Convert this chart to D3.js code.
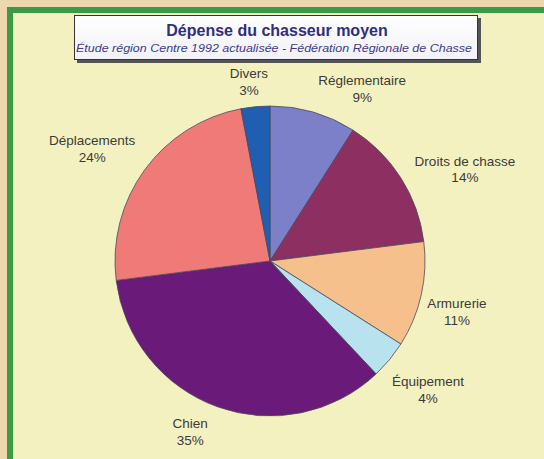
<!DOCTYPE html>
<html><head><meta charset="utf-8">
<script src="https://cdn.jsdelivr.net/npm/d3@7"></script>
<style>html,body{margin:0;padding:0;background:#eed7ae;}svg{display:block;}</style>
</head><body>
<script>
const categories = ["Réglementaire","Droits de chasse","Armurerie","Équipement","Chien","Déplacements","Divers"];
const values = [9,14,11,4,35,24,3];
const percentLabels = ["9%","14%","11%","4%","35%","24%","3%"];
const colors = ["#7b80c8","#8e2f62","#f6c08c","#b8e2ee","#6a1a78","#f07a77","#1f5eb0"];
const title = "Dépense du chasseur moyen";
const subtitle = "Étude région Centre 1992 actualisée - Fédération Régionale de Chasse";

// label nudges (layout, not data): offsets of label center from outer mid-angle point
const labelNudge = [[40,6.5],[37,8],[4.5,10],[14,9],[-16.5,-6],[-26.5,-3],[-3.5,6]];

const W=544,H=459;
const svg=d3.select("body").append("svg").attr("width",W).attr("height",H);
svg.append("rect").attr("width",W).attr("height",H).attr("fill","#eed7ae");
svg.append("rect").attr("x",10).attr("y",10).attr("width",700).attr("height",700)
  .attr("fill","#f4f1c0").attr("stroke","#3c9a47").attr("stroke-width",6);

// title box
const defs=svg.append("defs");
const g=defs.append("linearGradient").attr("id","tb").attr("x1",0).attr("y1",0).attr("x2",0).attr("y2",1);
g.append("stop").attr("offset","0%").attr("stop-color","#ffffff");
g.append("stop").attr("offset","100%").attr("stop-color","#f1f1f8");
svg.append("rect").attr("x",77).attr("y",18).attr("width",404).attr("height",45).attr("fill","#555");
svg.append("rect").attr("x",74.5).attr("y",15.5).attr("width",403).attr("height",44)
  .attr("fill","url(#tb)").attr("stroke","#333").attr("stroke-width",1);
svg.append("text").attr("x",277).attr("y",35.5).attr("text-anchor","middle")
  .attr("font-family","Liberation Sans, Arial, sans-serif").attr("font-weight","bold")
  .attr("font-size",16).attr("fill","#2f2e7e").text(title);
svg.append("text").attr("x",76).attr("y",52).attr("textLength",396).attr("lengthAdjust","spacingAndGlyphs")
  .attr("font-family","Liberation Sans, Arial, sans-serif").attr("font-style","italic")
  .attr("font-size",10.5).attr("fill","#3d3c86").text(subtitle);

// pie
const cx=270,cy=261,R=155;
const pie=d3.pie().sort(null).value(d=>d)(values);
const arc=d3.arc().innerRadius(0).outerRadius(R);
const pg=svg.append("g").attr("transform",`translate(${cx},${cy})`);
pg.selectAll("path").data(pie).join("path")
  .attr("d",arc).attr("fill",(d,i)=>colors[i])
  .attr("stroke","#4a4a5a").attr("stroke-width",0.8);

const labelArc=d3.arc().innerRadius(R+32).outerRadius(R+32);
const lg=pg.selectAll("g.lab").data(pie).join("g").attr("class","lab")
  .attr("transform",(d,i)=>{const c=labelArc.centroid(d);return `translate(${c[0]+labelNudge[i][0]},${c[1]+labelNudge[i][1]})`;});
lg.append("text").attr("text-anchor","middle").attr("y",-8+4.7)
  .attr("font-family","Liberation Sans, Arial, sans-serif").attr("font-size",13.5).attr("fill","#3a3a3a")
  .text((d,i)=>categories[i]);
lg.append("text").attr("text-anchor","middle").attr("y",9+4.7)
  .attr("font-family","Liberation Sans, Arial, sans-serif").attr("font-size",13.5).attr("fill","#3a3a3a")
  .text((d,i)=>percentLabels[i]);
</script>
</body></html>
